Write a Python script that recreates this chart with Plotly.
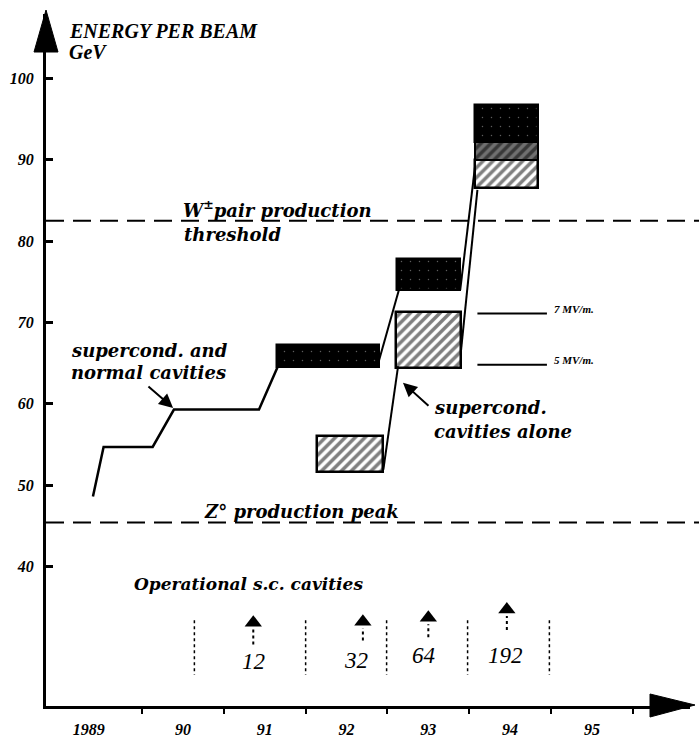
import plotly.graph_objects as go

# ---------------- data ----------------
year_tick_pos = [1989.35, 1990.5, 1991.5, 1992.5, 1993.5, 1994.5, 1995.5]
year_tick_text = ["1989", "90", "91", "92", "93", "94", "95"]
year_bounds = [1990, 1991, 1992, 1993, 1994, 1995, 1996]
energy_ticks = [40, 50, 60, 70, 80, 90, 100]

W_THRESHOLD = 82.5   # GeV, W+W- pair production threshold line
Z_PEAK = 45.4        # GeV, Z0 production peak line

# supercond. + normal cavities: measured energy steps
step_year = [1989.40, 1989.53, 1990.13, 1990.39, 1991.43, 1991.66]
step_energy = [48.6, 54.7, 54.7, 59.3, 59.3, 64.6]

# projected ranges: supercond. + normal cavities (dark boxes)
dark_x0 = [1991.65, 1993.12, 1994.07]
dark_x1 = [1992.90, 1993.89, 1994.84]
dark_lo = [64.5, 74.0, 92.2]
dark_hi = [67.2, 77.8, 96.7]

# projected ranges: supercond. cavities alone (hatched boxes)
hatch_x0 = [1992.14, 1993.11, 1994.07]
hatch_x1 = [1992.95, 1993.90, 1994.84]
hatch_lo = [51.6, 64.4, 86.5]
hatch_hi = [56.0, 71.3, 90.0]

# overlap band in 1994 box
mix_x0 = [1994.07]
mix_x1 = [1994.84]
mix_lo = [90.0]
mix_hi = [92.2]

# connecting lines between boxes
normal_links = [([1992.885, 1993.14], [64.9, 74.0]), ([1993.89, 1994.07], [74.0, 89.1])]
alone_links = [([1992.95, 1993.13], [51.9, 64.6]), ([1993.90, 1994.10], [66.6, 86.3])]

# gradient marks
gradient_labels = ["7 MV/m.", "5 MV/m."]
gradient_energy = [71.1, 64.8]
gradient_x = [1994.10, 1994.95]

# operational s.c. cavities
cav_counts = ["12", "32", "64", "192"]
cav_label_x = [1991.36, 1992.62, 1993.44, 1994.44]
cav_label_y = [28.3, 28.4, 29.1, 29.1]
cav_arrow_x = [1991.36, 1992.70, 1993.50, 1994.46]
cav_arrow_top = [34.3, 34.4, 34.9, 35.9]
cav_arrow_bottom = [30.4, 30.9, 31.3, 32.2]
cav_sep_x = [1990.64, 1992.00, 1992.99, 1993.98, 1994.98]
cav_sep_y = [33.4, 26.7]

# ---------------- layout geometry ----------------
W, H = 699, 738
ML, MR, MT, MB = 46, 9, 14, 32
PW, PH = W - ML - MR, H - MT - MB
X_RANGE = [1988.826, 1996.699]
Y_RANGE = [22.85, 107.93]

SERIF = "Liberation Serif"
WIDE = "DejaVu Serif"


def px(xp):
    return (xp - ML) / PW


def py(yp):
    return (H - MB - yp) / PH


fig = go.Figure()

# hatched boxes (supercond. alone)
fig.add_trace(go.Bar(
    x=[(a + b) / 2 for a, b in zip(hatch_x0, hatch_x1)],
    width=[b - a for a, b in zip(hatch_x0, hatch_x1)],
    base=hatch_lo,
    y=[h - l for h, l in zip(hatch_hi, hatch_lo)],
    marker=dict(color="white", line=dict(color="black", width=2.5),
                pattern=dict(shape="/", fgcolor="black", bgcolor="white", size=7, solidity=0.5)),
    hoverinfo="skip", showlegend=False))

# overlap band
fig.add_trace(go.Bar(
    x=[(a + b) / 2 for a, b in zip(mix_x0, mix_x1)],
    width=[b - a for a, b in zip(mix_x0, mix_x1)],
    base=mix_lo,
    y=[h - l for h, l in zip(mix_hi, mix_lo)],
    marker=dict(color="#555555", line=dict(color="black", width=2),
                pattern=dict(shape="/", fgcolor="black", bgcolor="#707070", size=7, solidity=0.5)),
    hoverinfo="skip", showlegend=False))

# dark boxes (supercond. + normal)
fig.add_trace(go.Bar(
    x=[(a + b) / 2 for a, b in zip(dark_x0, dark_x1)],
    width=[b - a for a, b in zip(dark_x0, dark_x1)],
    base=dark_lo,
    y=[h - l for h, l in zip(dark_hi, dark_lo)],
    marker=dict(color="black", line=dict(color="black", width=2.5),
                pattern=dict(shape=".", fgcolor="#bbbbbb", bgcolor="black", size=9, solidity=0.02)),
    hoverinfo="skip", showlegend=False))

# step line
fig.add_trace(go.Scatter(x=step_year, y=step_energy, mode="lines",
                         line=dict(color="black", width=2.5), hoverinfo="skip", showlegend=False))
for xs, ys in normal_links + alone_links:
    fig.add_trace(go.Scatter(x=xs, y=ys, mode="lines",
                             line=dict(color="black", width=2), hoverinfo="skip", showlegend=False))

# gradient marks
for e in gradient_energy:
    fig.add_trace(go.Scatter(x=gradient_x, y=[e, e], mode="lines",
                             line=dict(color="black", width=2), hoverinfo="skip", showlegend=False))

# cavity separators
for xv in cav_sep_x:
    fig.add_trace(go.Scatter(x=[xv, xv], y=cav_sep_y, mode="lines",
                             line=dict(color="black", width=1.5, dash="dot"),
                             hoverinfo="skip", showlegend=False))

# cavity arrows (dotted stem + head)
for xv, top, bot in zip(cav_arrow_x, cav_arrow_top, cav_arrow_bottom):
    fig.add_trace(go.Scatter(x=[xv, xv], y=[bot, top - 2.0], mode="lines",
                             line=dict(color="black", width=2, dash="dot"),
                             hoverinfo="skip", showlegend=False))
fig.add_trace(go.Scatter(x=cav_arrow_x, y=[t - 1.2 for t in cav_arrow_top], mode="markers",
                         marker=dict(symbol="triangle-up", size=15, color="black"),
                         hoverinfo="skip", showlegend=False))

shapes = []
# threshold lines
for e in (W_THRESHOLD, Z_PEAK):
    shapes.append(dict(type="line", xref="paper", yref="y", x0=0, x1=px(699), y0=e, y1=e,
                       line=dict(color="black", width=2, dash="18px,9px")))
# axis arrow heads
shapes.append(dict(type="path", xref="paper", yref="paper",
                   path=f"M {px(46)},{py(10)} L {px(34)},{py(52)} L {px(58)},{py(52)} Z",
                   fillcolor="black", line=dict(color="black", width=1)))
shapes.append(dict(type="path", xref="paper", yref="paper",
                   path=f"M {px(695)},{py(705)} L {px(650)},{py(694)} L {px(650)},{py(717)} Z",
                   fillcolor="black", line=dict(color="black", width=1)))


def label(text, x, y, size, family=WIDE, xanchor="left", bold=True, italic=True):
    t = text
    if italic:
        t = f"<i>{t}</i>"
    if bold:
        t = f"<b>{t}</b>"
    return dict(x=x, y=y, xref="x", yref="y", text=t, showarrow=False,
                xanchor=xanchor, yanchor="middle",
                font=dict(family=family, size=size, color="black"))


ann = [
    label("ENERGY PER BEAM", 1989.08, 105.9, 20, family=SERIF),
    label("GeV", 1989.08, 103.2, 20, family=SERIF),
    label("W<sup>±</sup>pair production", 1990.48, 83.95, 18),
    label("threshold", 1990.49, 80.8, 18),
    label("Z° production peak", 1990.73, 46.8, 18),
    label("supercond. and", 1989.11, 66.6, 18),
    label("normal cavities", 1989.11, 63.8, 18),
    label("supercond.", 1993.55, 59.6, 18),
    label("cavities alone", 1993.55, 56.6, 18),
    label("Operational s.c. cavities", 1989.88, 37.85, 17),
]
for txt, e in zip(gradient_labels, gradient_energy):
    ann.append(label(txt, 1995.01, e + 0.6, 11, family=SERIF))
for txt, xv, yv in zip(cav_counts, cav_label_x, cav_label_y):
    ann.append(label(txt, xv, yv, 23, family=SERIF, xanchor="center", bold=False))

# pointer arrows
ann.append(dict(x=1990.38, y=59.5, ax=1990.06, ay=62.3, xref="x", yref="y", axref="x", ayref="y",
                text="", showarrow=True, arrowhead=2, arrowsize=1.4, arrowwidth=2, arrowcolor="black"))
ann.append(dict(x=1993.19, y=62.6, ax=1993.52, ay=59.6, xref="x", yref="y", axref="x", ayref="y",
                text="", showarrow=True, arrowhead=2, arrowsize=1.4, arrowwidth=2, arrowcolor="black"))

fig.update_layout(
    width=W, height=H,
    margin=dict(l=ML, r=MR, t=MT, b=MB, pad=0, autoexpand=False),
    paper_bgcolor="white", plot_bgcolor="white",
    barmode="overlay", bargap=0,
    shapes=shapes, annotations=ann,
    showlegend=False,
)
fig.update_xaxes(
    range=X_RANGE, showgrid=False, zeroline=False, automargin=False,
    showline=True, linecolor="black", linewidth=3,
    tickmode="array", tickvals=year_tick_pos,
    ticktext=[f"<b><i>{t}</i></b>" for t in year_tick_text],
    ticks="", ticklabelstandoff=7,
    tickfont=dict(family=SERIF, size=16, color="black"),
    minor=dict(tickmode="array", tickvals=year_bounds, ticks="outside",
               ticklen=5, tickwidth=2, tickcolor="black", showgrid=False),
)
fig.update_yaxes(
    range=Y_RANGE, showgrid=False, zeroline=False, automargin=False,
    showline=True, linecolor="black", linewidth=3,
    tickmode="array", tickvals=energy_ticks,
    ticktext=[f"<b><i>{v}</i></b>" for v in energy_ticks],
    ticks="inside", ticklen=7, tickwidth=2.5, tickcolor="black",
    ticklabelstandoff=6,
    tickfont=dict(family=SERIF, size=16, color="black"),
)

fig.write_html("out.html", config={"displayModeBar": False},
               post_script="document.body.style.margin='0';")
